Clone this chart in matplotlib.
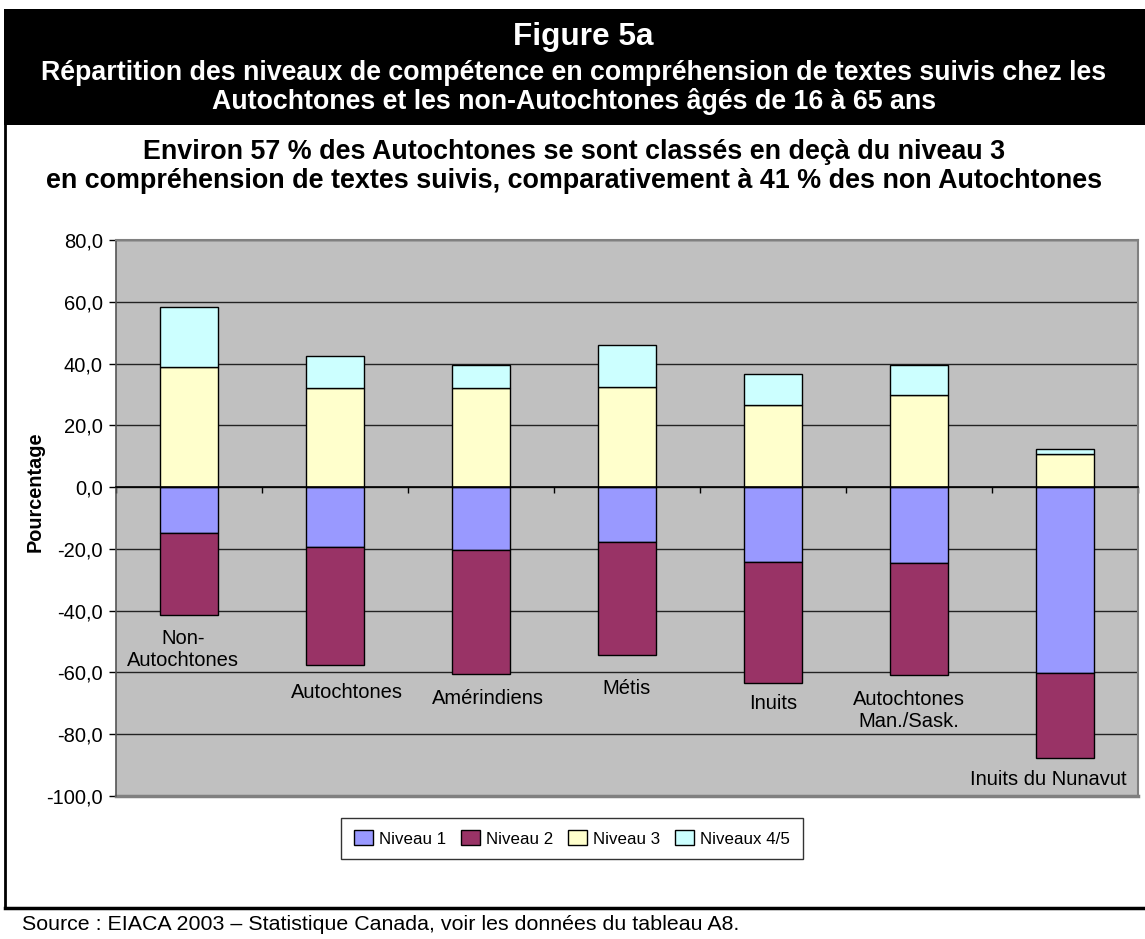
import matplotlib
matplotlib.use('Agg')
import matplotlib.pyplot as plt
from matplotlib.patches import Rectangle
from matplotlib.lines import Line2D
from matplotlib.ticker import FuncFormatter
import numpy as np

plt.rcParams['font.family'] = ['Liberation Sans', 'DejaVu Sans']

# ---- data ----
categories = ["Non-\nAutochtones", "Autochtones", "Amérindiens", "Métis",
              "Inuits", "Autochtones\nMan./Sask.", "Inuits du Nunavut"]
niveau1 = [14.7, 19.3, 20.5, 17.7, 24.2, 24.6, 60.3]
niveau2 = [26.6, 38.3, 40.0, 36.5, 39.3, 36.1, 27.5]
niveau3 = [38.8, 32.2, 32.2, 32.4, 26.7, 29.8, 10.8]
niveau45 = [19.6, 10.2, 7.4, 13.5, 9.9, 9.6, 1.4]
series_names = ["Niveau 1", "Niveau 2", "Niveau 3", "Niveaux 4/5"]
y_ticks = list(range(-100, 81, 20))

colors = ["#9999FF", "#993366", "#FFFFCC", "#CCFFFF"]

# ---- layout helpers ----
W, H = 1145, 939
fig = plt.figure(figsize=(W / 100, H / 100), dpi=100)
renderer = fig.canvas.get_renderer()

def fx(px):
    return px / W

def fy(py):
    return 1 - py / H

def fit_text(x, y, s, target_w, **kw):
    t = fig.text(fx(x), fy(y), s, fontsize=20, **kw)
    w = t.get_window_extent(renderer).width
    size = 20 * target_w / w
    t.set_fontsize(size)
    return t, size

# black title box
fig.patches.append(Rectangle((fx(4), fy(125)), fx(1145) - fx(4), (125 - 9) / H,
                             transform=fig.transFigure, facecolor='black',
                             edgecolor='none', zorder=0))
# frame lines
fig.lines.append(Line2D([fx(5), fx(5)], [fy(125), fy(908)], transform=fig.transFigure,
                        color='black', lw=2))
fig.lines.append(Line2D([fx(5), fx(1145)], [fy(908), fy(908)], transform=fig.transFigure,
                        color='black', lw=2.5))

# titles
t2, s_title = fit_text(574, 80, "Répartition des niveaux de compétence en compréhension de textes suivis chez les",
                       1065, color='white', fontweight='bold', ha='center', va='baseline')
fig.text(fx(574), fy(109), "Autochtones et les non-Autochtones âgés de 16 à 65 ans",
         fontsize=s_title, color='white', fontweight='bold', ha='center', va='baseline')
fig.text(fx(583), fy(45), "Figure 5a", fontsize=s_title * 1.18, color='white',
         fontweight='bold', ha='center', va='baseline')

st2, s_sub = fit_text(574, 188, "en compréhension de textes suivis, comparativement à 41 % des non Autochtones",
                      1055, color='black', fontweight='bold', ha='center', va='baseline')
fig.text(fx(574), fy(159), "Environ 57 % des Autochtones se sont classés en deçà du niveau 3",
         fontsize=s_sub, color='black', fontweight='bold', ha='center', va='baseline')

fit_text(22, 930, "Source : EIACA 2003 – Statistique Canada, voir les données du tableau A8.",
         715, color='black', ha='left', va='baseline')

# ---- axes ----
ax = fig.add_axes([fx(116), fy(796), fx(1138) - fx(116), (796 - 240) / H])
ax.set_facecolor('#C0C0C0')
x = np.arange(len(categories))
bw = 0.4
n1 = -np.array(niveau1)
n2 = -np.array(niveau2)
n3 = np.array(niveau3)
n45 = np.array(niveau45)
ax.bar(x, n1, bw, color=colors[0], edgecolor='black', lw=1, zorder=3)
ax.bar(x, n2, bw, bottom=n1, color=colors[1], edgecolor='black', lw=1, zorder=3)
ax.bar(x, n3, bw, color=colors[2], edgecolor='black', lw=1, zorder=3)
ax.bar(x, n45, bw, bottom=n3, color=colors[3], edgecolor='black', lw=1, zorder=3)

ax.set_xlim(-0.5, len(categories) - 0.5)
ax.set_ylim(-100, 80)
ax.set_yticks(y_ticks)
ax.yaxis.set_major_formatter(FuncFormatter(lambda v, p: f"{v:.1f}".replace('.', ',')))
ax.tick_params(axis='y', direction='out', length=5, width=1, labelsize=14.5, pad=4.5,
               color='black')
ax.set_xticks(np.arange(-0.5, len(categories), 1.0))
ax.set_xticklabels([])
ax.tick_params(axis='x', direction='out', length=4, width=1, color='black')
ax.yaxis.grid(True, color='#222222', lw=1.0, zorder=1)
ax.set_axisbelow(True)

ax.spines['bottom'].set_position(('data', 0))
ax.spines['bottom'].set_color('black')
ax.spines['bottom'].set_linewidth(1.2)
ax.spines['bottom'].set_zorder(4)
for sp in ['top', 'right']:
    ax.spines[sp].set_color('#808080')
    ax.spines[sp].set_linewidth(1.5)
ax.spines['left'].set_color('#555555')
ax.spines['left'].set_linewidth(1.2)
ax.axhline(-100, color='#808080', lw=2.5, clip_on=False, zorder=2)

# category labels under each bar
label_dx = [-6, 12, 7, 0, 0, -10, -17]
label_gap = [14, 18, 15, 24, 11, 15, 12]
bottoms = n1 + n2
for i, lab in enumerate(categories):
    ax.annotate(lab, xy=(x[i], bottoms[i]), xytext=(label_dx[i], -label_gap[i]),
                textcoords='offset pixels', ha='center', va='top',
                multialignment='center', fontsize=14.5, zorder=5)

fig.text(fx(35), fy(492), "Pourcentage", rotation=90, ha='center', va='center',
         fontsize=14.3, fontweight='bold')

handles = [Rectangle((0, 0), 1, 1, facecolor=c, edgecolor='black', lw=1) for c in colors]
leg = fig.legend(handles, series_names, loc='center',
                 bbox_to_anchor=(fx(572), fy(838.5)), ncol=4, frameon=True,
                 fancybox=False, edgecolor='black', fontsize=12.2,
                 handlelength=1.15, handleheight=1.0, handletextpad=0.35,
                 columnspacing=0.85, borderpad=0.75, borderaxespad=0)
leg.get_frame().set_linewidth(1)

fig.savefig('out.png', dpi=100, facecolor='white')
